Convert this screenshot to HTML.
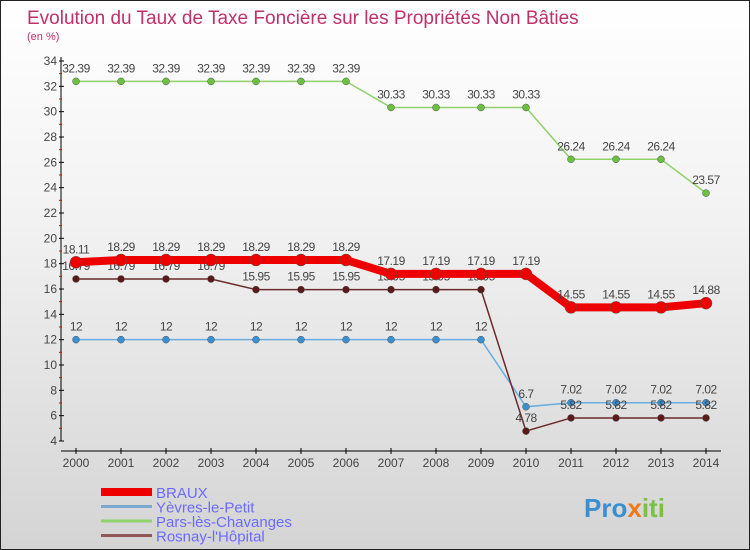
<!DOCTYPE html>
<html><head><meta charset="utf-8"><style>
body{margin:0}
#wrap{width:748px;height:548px;border:1px solid #222;background:linear-gradient(#ffffff,#f2f2f2 40%,#d4d4d4);position:relative;overflow:hidden;font-family:"Liberation Sans",sans-serif}
</style></head><body>
<div id="wrap">
<svg id="chart" width="748" height="548" style="position:absolute;left:0;top:0">
<text x="26" y="23" font-size="19" fill="#c0306a">Evolution du Taux de Taxe Foncière sur les Propriétés Non Bâties</text>
<text x="26" y="39" font-size="11" fill="#c0306a">(en %)</text>
<g id="axes"></g><g id="series"></g><g id="legend"></g>
<text x="583" y="516" font-size="26" font-weight="bold" fill="#3a8fd0">Pro<tspan fill="#f07a1a">x</tspan><tspan fill="#7bc043">iti</tspan></text>
</svg></div>
<script>
const years=[2000,2001,2002,2003,2004,2005,2006,2007,2008,2009,2010,2011,2012,2013,2014];
const braux=[18.11,18.29,18.29,18.29,18.29,18.29,18.29,17.19,17.19,17.19,17.19,14.55,14.55,14.55,14.88];
const yevres=[12,12,12,12,12,12,12,12,12,12,6.7,7.02,7.02,7.02,7.02];
const pars=[32.39,32.39,32.39,32.39,32.39,32.39,32.39,30.33,30.33,30.33,30.33,26.24,26.24,26.24,23.57];
const rosnay=[16.79,16.79,16.79,16.79,15.95,15.95,15.95,15.95,15.95,15.95,4.78,5.82,5.82,5.82,5.82];
const yTicks=[4,6,8,10,12,14,16,18,20,22,24,26,28,30,32,34];
const names=["BRAUX","Yèvres-le-Petit","Pars-lès-Chavanges","Rosnay-l'Hôpital"];
const NS="http://www.w3.org/2000/svg";
const X=i=>75+i*45, Y=v=>440-(v-4)*(380/30);
function mk(p,t,a){const e=document.createElementNS(NS,t);for(const k in a)e.setAttribute(k,a[k]);p.appendChild(e);return e;}
const ax=document.getElementById('axes');
let l=mk(ax,'line',{x1:60,y1:56,x2:60,y2:440,stroke:'#000'});


l=mk(ax,'line',{x1:60,y1:450,x2:720,y2:450,stroke:'#000'});


yTicks.forEach(v=>{mk(ax,'line',{x1:58,y1:Y(v),x2:63,y2:Y(v),stroke:'#000'});
 if(v<34)mk(ax,'line',{x1:58,y1:Y(v+1),x2:61,y2:Y(v+1),stroke:'#e00'});
 const t=mk(ax,'text',{x:56,y:Y(v)+4,'font-size':12,fill:'#444','text-anchor':'end'});t.textContent=v;
 
 });
years.forEach((y,i)=>{mk(ax,'line',{x1:X(i),y1:447,x2:X(i),y2:453,stroke:'#000'});
 const t=mk(ax,'text',{x:X(i),y:466,'font-size':12,fill:'#444','text-anchor':'middle'});t.textContent=y;
 
 });
const sg=document.getElementById('series');
const defs=[[pars,'#8fd16a','#6cc040',1.5,3.5,'pars-line'],[yevres,'#6aaee0','#3a8fd0',1.5,3.5,'yevres-line'],[rosnay,'#6a2a2a','#5a1a1a',1.5,3.5,'rosnay-line'],[braux,'#ee0000','#ee0000',8,6,'braux-line']];
defs.forEach(([d,c,dc,w,r,n])=>{
 const p=mk(sg,'polyline',{points:d.map((v,i)=>X(i)+','+Y(v)).join(' '),fill:'none',stroke:c,'stroke-width':w});
 
 
 d.forEach((v,i)=>{const c2=mk(sg,'circle',{cx:X(i),cy:Y(v),r:r,fill:dc,stroke:'#555','stroke-width':0.5});
  
  
  const t=mk(sg,'text',{x:X(i),y:Y(v)-9,'font-size':12,fill:'#444','text-anchor':'middle','letter-spacing':'-0.5'});t.textContent=v;
  
  });
});
const lg=document.getElementById('legend');
[['#ee0000',8],['#7aa8d0',3],['#8fd16a',3],['#905858',3]].forEach(([c,w],i)=>{
 const y=491+i*14.5;
 const ln=mk(lg,'line',{x1:100,y1:y,x2:151,y2:y,stroke:c,'stroke-width':w});
 
 
 const t=mk(lg,'text',{x:155,y:y+6,'font-size':15,fill:'#6b6bff'});t.textContent=names[i];
 
 
});
</script></body></html>
